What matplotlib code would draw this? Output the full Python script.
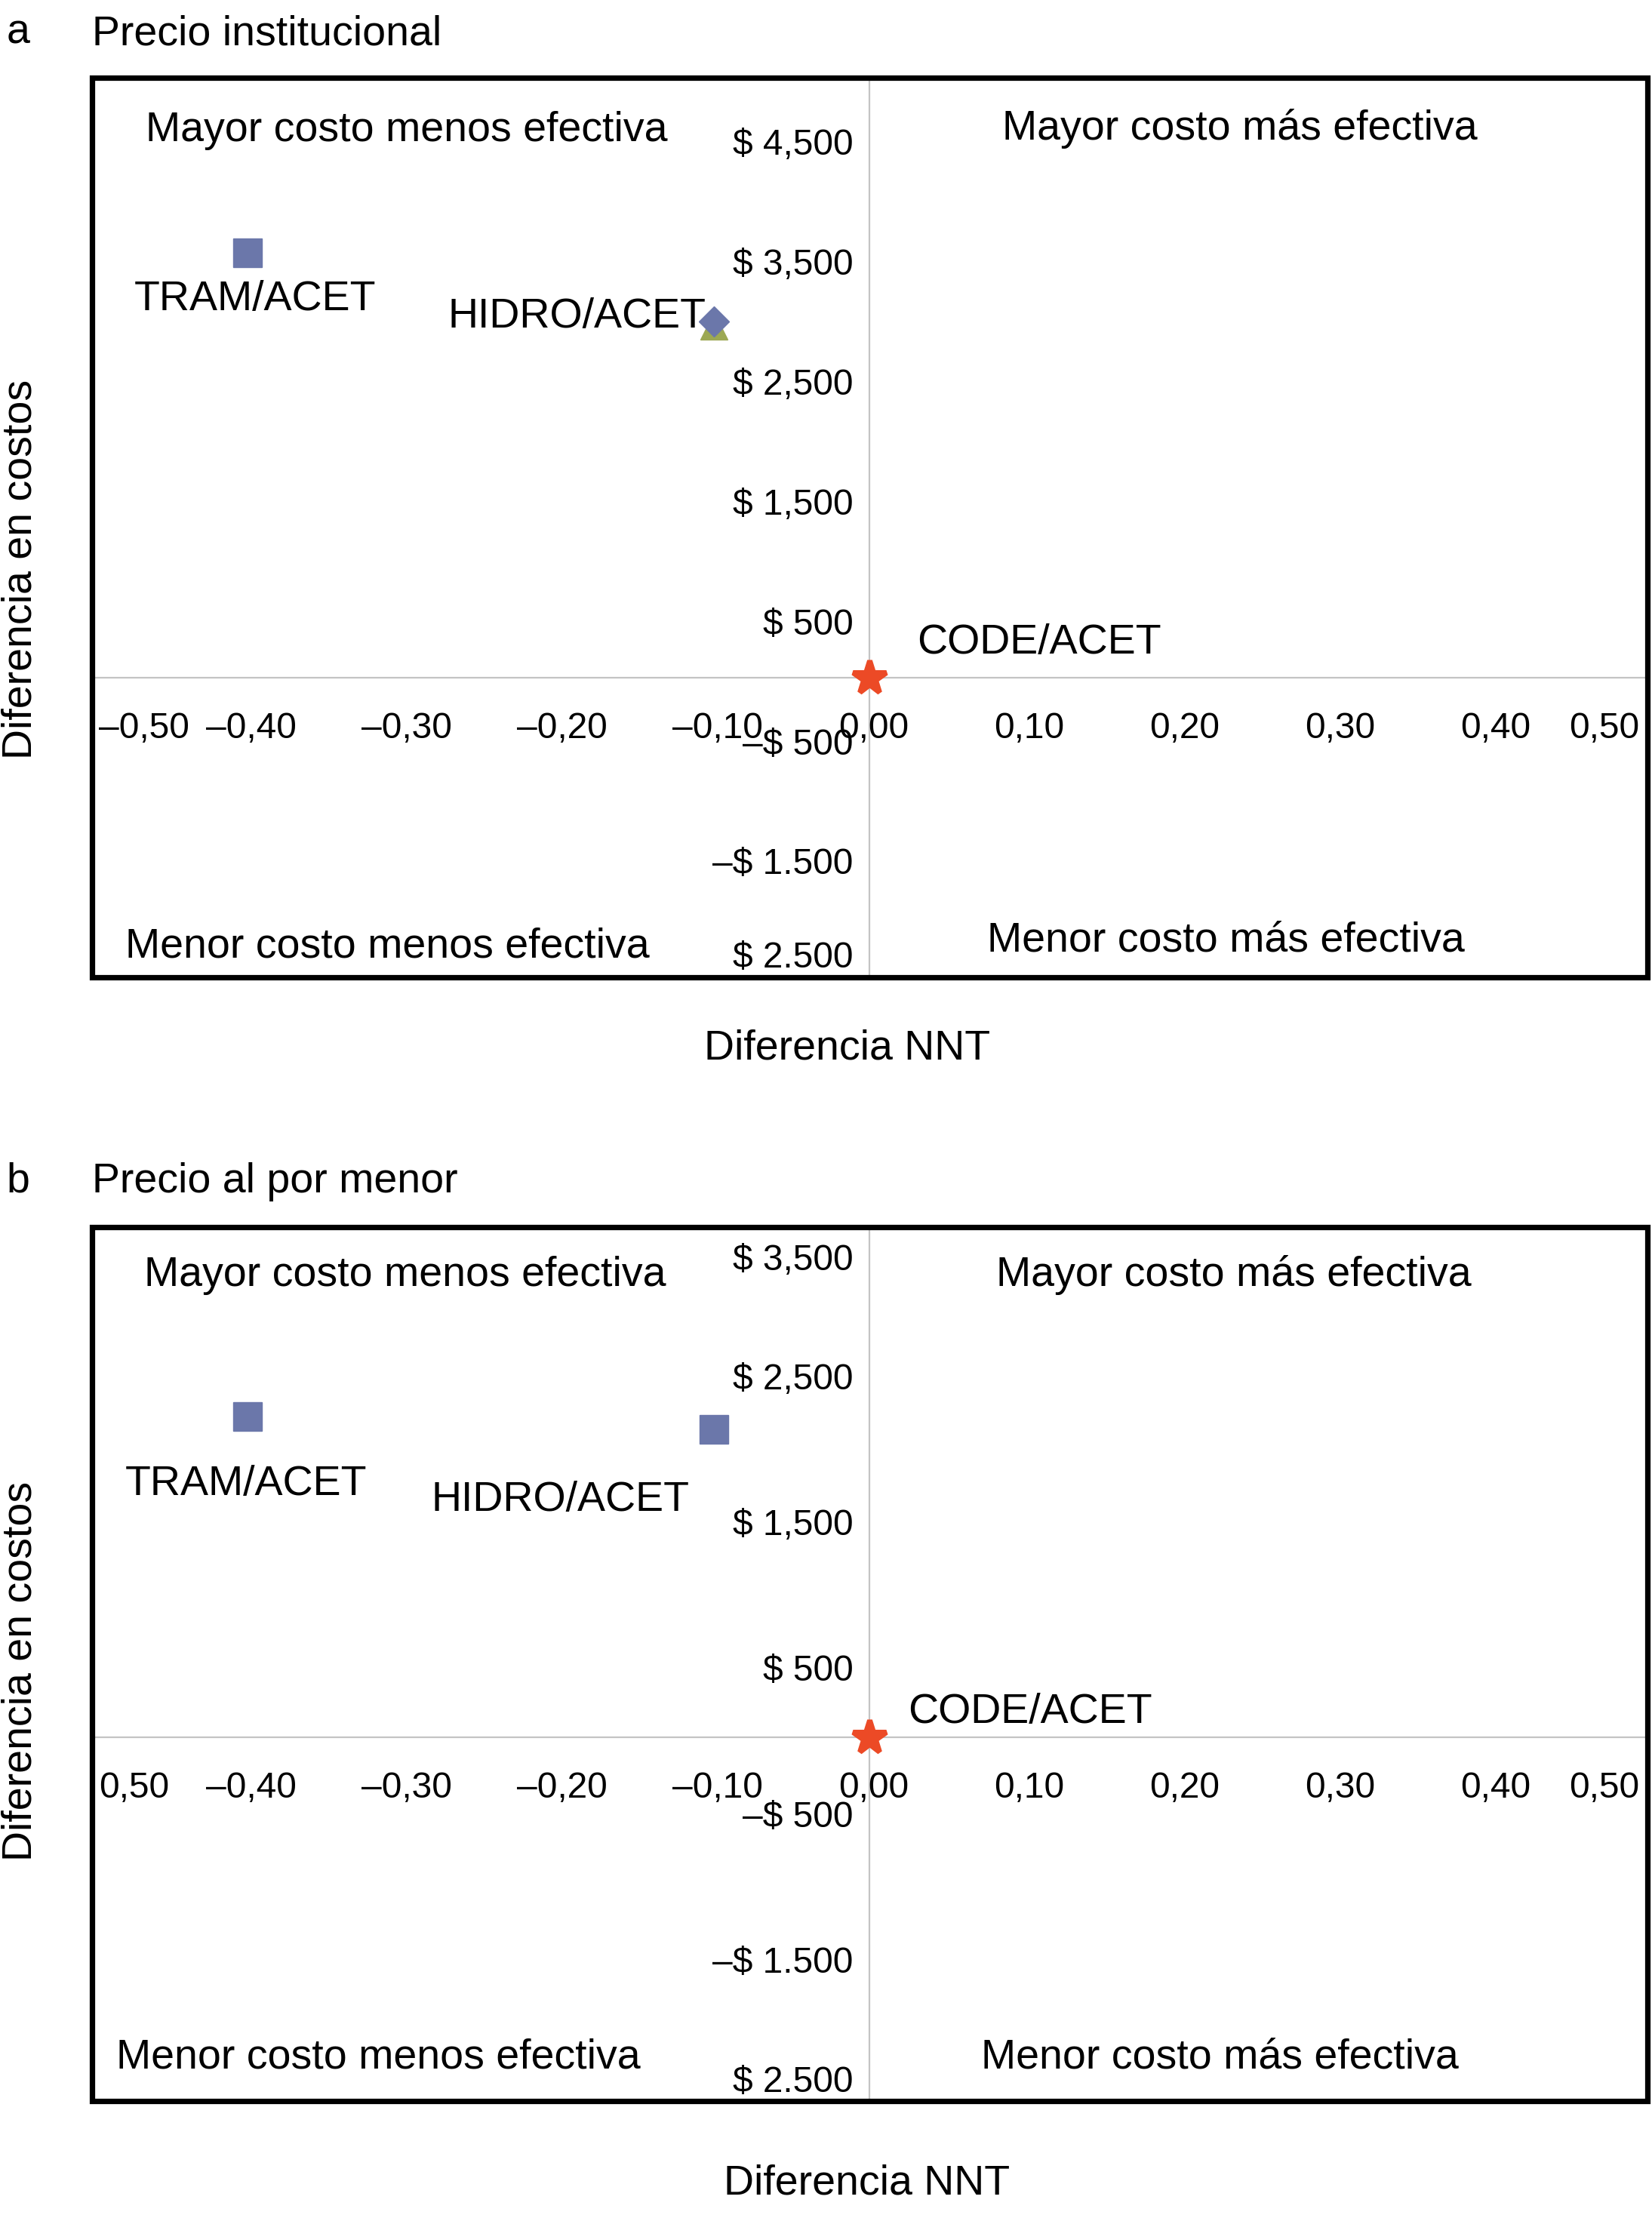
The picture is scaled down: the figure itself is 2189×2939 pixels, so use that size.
import matplotlib
matplotlib.use("Agg")
import matplotlib.pyplot as plt
from matplotlib.patches import Rectangle

plt.rcParams['font.family'] = ['Liberation Sans', 'DejaVu Sans']

# --- data ---
quadrants = ["Mayor costo menos efectiva", "Mayor costo más efectiva",
             "Menor costo menos efectiva", "Menor costo más efectiva"]

x_ticks = [-0.5, -0.4, -0.3, -0.2, -0.1, 0.0, 0.1, 0.2, 0.3, 0.4, 0.5]
x_labels_a = ["–0,50", "–0,40", "–0,30", "–0,20", "–0,10", "0,00",
              "0,10", "0,20", "0,30", "0,40", "0,50"]
x_labels_b = ["0,50", "–0,40", "–0,30", "–0,20", "–0,10", "0,00",
              "0,10", "0,20", "0,30", "0,40", "0,50"]

y_ticks_a = [4500, 3500, 2500, 1500, 500, -500, -1500, -2500]
y_labels_a = ["$ 4,500", "$ 3,500", "$ 2,500", "$ 1,500", "$ 500",
              "–$ 500", "–$ 1.500", "$ 2.500"]
y_ticks_b = [3500, 2500, 1500, 500, -500, -1500, -2500]
y_labels_b = ["$ 3,500", "$ 2,500", "$ 1,500", "$ 500",
              "–$ 500", "–$ 1.500", "$ 2.500"]

# panel a: precio institucional
tram_a = (-0.40, 3540)
hidro_a = (-0.10, 2970)
hidro_tri_a = (-0.10, 2930)
code_a = (0.0, 0.0)

# panel b: precio al por menor
tram_b = (-0.40, 2200)
hidro_b = (-0.10, 2110)
code_b = (0.0, 0.0)

BLUE = '#6B77AA'
GREEN = '#9CA853'
RED = '#EC4A26'
GRID = '#C4C4C4'
FS = 40
TFS = 34.5
SH = 6  # text baseline nudge (px)

fig = plt.figure(figsize=(21.89, 29.39), dpi=100)
ax_a = fig.add_axes([0.0557, 0.5594, 0.9415, 0.4056])
ax_b = fig.add_axes([0.0557, 0.0527, 0.9415, 0.3941])


def setup(ax, ylim, yticks, ylabels, xlabels, quad_pos):
    ax.set_xlim(-0.5, 0.5)
    ax.set_ylim(*ylim)
    ax.axis('off')
    ax.axhline(0, color=GRID, lw=1.6, zorder=1)
    ax.axvline(0, color=GRID, lw=1.6, zorder=1)
    ax.add_patch(Rectangle((0, 0), 1, 1, transform=ax.transAxes, fill=False,
                           lw=5.2, ec='black', clip_on=False, zorder=5))
    for v, lab in zip(yticks, ylabels):
        if v <= ylim[0]:
            dy = 31
        elif v >= ylim[1]:
            dy = -39
        else:
            dy = -4
        ax.annotate(lab, xy=(0, v), xytext=(-22, dy - SH), textcoords='offset pixels',
                    ha='right', va='center', fontsize=TFS, annotation_clip=False)
    for v, lab in zip(x_ticks, xlabels):
        if v <= -0.5:
            ha, dx = 'left', 9
        elif v >= 0.5:
            ha, dx = 'right', -11
        else:
            ha, dx = 'center', 5
        ax.annotate(lab, xy=(v, 0), xytext=(dx, -62 - SH), textcoords='offset pixels',
                    ha=ha, va='center', fontsize=TFS, annotation_clip=False)
    h = ax.get_position().height * fig.get_figheight() * fig.dpi
    for txt, (fx, fy) in zip(quadrants, quad_pos):
        ax.text(fx, fy - SH / h, txt, transform=ax.transAxes, ha='center',
                va='center', fontsize=FS)


def label(ax, txt, pt, off):
    ax.annotate(txt, xy=pt, xytext=(off[0], off[1] - SH), textcoords='offset pixels',
                ha='center', va='center', fontsize=FS)


def star(ax, pt):
    ax.plot(*pt, marker='*', ms=33, color=RED, mec=RED, mew=5, ls='none',
            zorder=4, solid_joinstyle='round')


def ftext(x, y, txt, **kw):
    fig.text(x / 2189, 1 - (y + SH) / 2939, txt, fontsize=FS, va='center', **kw)


# --- panel a ---
setup(ax_a, (-2500, 5000), y_ticks_a, y_labels_a, x_labels_a,
      [(0.2023, 0.946), (0.738, 0.948), (0.190, 0.039), (0.729, 0.046)])
ax_a.plot(*hidro_tri_a, marker='^', ms=26, color=GREEN, ls='none', zorder=3)
ax_a.plot(*tram_a, marker='s', ms=27, color=BLUE, ls='none', zorder=4)
ax_a.plot(*hidro_a, marker='D', ms=20, color=BLUE, ls='none', zorder=4)
star(ax_a, code_a)
label(ax_a, "TRAM/ACET", tram_a, (10, -56))
label(ax_a, "HIDRO/ACET", hidro_a, (-182, 12))
label(ax_a, "CODE/ACET", code_a, (225, 52))

ftext(24, 37, "a", ha='center')
ftext(122, 39, "Precio institucional", ha='left')
ftext(28, 748, "Diferencia en costos", ha='center', rotation=90)
ftext(1123, 1383, "Diferencia NNT", ha='center')

# --- panel b ---
setup(ax_b, (-2500, 3500), y_ticks_b, y_labels_b, x_labels_b,
      [(0.2014, 0.950), (0.734, 0.950), (0.184, 0.055), (0.725, 0.055)])
ax_b.plot(*tram_b, marker='s', ms=27, color=BLUE, ls='none', zorder=4)
ax_b.plot(*hidro_b, marker='s', ms=27, color=BLUE, ls='none', zorder=4)
star(ax_b, code_b)
label(ax_b, "TRAM/ACET", tram_b, (-2, -84))
label(ax_b, "HIDRO/ACET", hidro_b, (-204, -88))
label(ax_b, "CODE/ACET", code_b, (213, 39))

ftext(24, 1559, "b", ha='center')
ftext(122, 1560, "Precio al por menor", ha='left')
ftext(28, 2208, "Diferencia en costos", ha='center', rotation=90)
ftext(1149, 2887, "Diferencia NNT", ha='center')

fig.savefig("out.png", dpi=100)
